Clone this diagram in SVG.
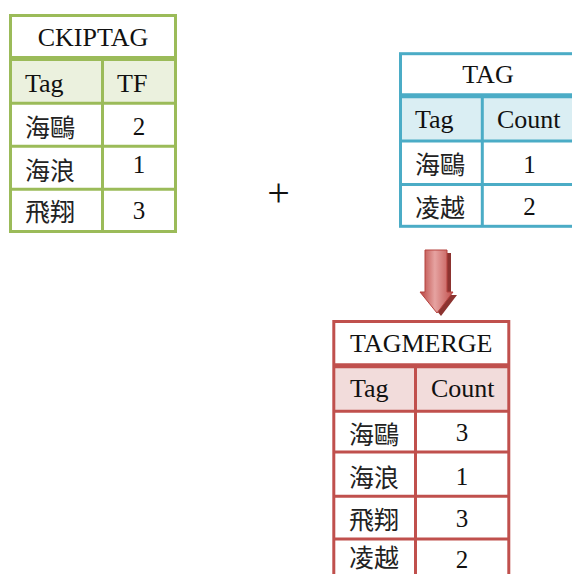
<svg xmlns="http://www.w3.org/2000/svg" width="572" height="574" viewBox="0 0 572 574">
<style>
  .t { font-family: "Liberation Serif", "Times New Roman", serif; font-size: 26px; fill: #111; }
  .d { font-family: "Liberation Serif", "Times New Roman", serif; font-size: 25px; fill: #111; text-anchor: middle; }
  .c { font-family: "Noto Sans CJK TC", "Noto Sans CJK SC", sans-serif; font-size: 25px; fill: #222; }
  .mid { text-anchor: middle; }
  .g { stroke: #9BBB59; }
  .b { stroke: #4BACC6; }
  .r { stroke: #C0504D; }
  .ln { stroke-width: 3; fill: none; }
  .sep { stroke-width: 5; fill: none; }
</style>
<defs>
  <linearGradient id="arrowGrad" x1="0" y1="0" x2="1" y2="0">
    <stop offset="0" stop-color="#B8433F"/>
    <stop offset="0.45" stop-color="#E6A3A1"/>
    <stop offset="1" stop-color="#C0504D"/>
  </linearGradient>
</defs>
<rect width="572" height="574" fill="#fff"/>

<g id="ckiptag">
  <rect x="10.5" y="58.5" width="165" height="45" fill="#EBF1DE"/>
  <rect x="10.5" y="15.5" width="165" height="216" class="g ln"/>
  <line x1="10.5" y1="58.5" x2="175.5" y2="58.5" class="g sep"/>
  <line x1="10.5" y1="103.3" x2="175.5" y2="103.3" class="g ln"/>
  <line x1="10.5" y1="146.3" x2="175.5" y2="146.3" class="g ln"/>
  <line x1="10.5" y1="189.3" x2="175.5" y2="189.3" class="g ln"/>
  <line x1="102.5" y1="58.5" x2="102.5" y2="231.5" class="g ln"/>
  <text x="93" y="46" class="t mid">CKIPTAG</text>
  <text x="25" y="91.5" class="t">Tag</text>
  <text x="117" y="91.5" class="t">TF</text>
  <text x="25" y="137" class="c">海鷗</text>
  <text x="139" y="135" class="d">2</text>
  <text x="25" y="180.3" class="c">海浪</text>
  <text x="139" y="173" class="d">1</text>
  <text x="25" y="220.5" class="c">飛翔</text>
  <text x="139" y="219" class="d">3</text>
</g>

<g id="plus">
  <text x="278.5" y="206" font-family="Liberation Serif, serif" font-size="40" text-anchor="middle" fill="#111">+</text>
</g>

<g id="tag">
  <rect x="400.5" y="95.8" width="176" height="45.2" fill="#DAEEF3"/>
  <rect x="400.5" y="53.7" width="176" height="172.6" class="b ln"/>
  <line x1="400.5" y1="95.8" x2="576.5" y2="95.8" class="b sep"/>
  <line x1="400.5" y1="141" x2="576.5" y2="141" class="b ln"/>
  <line x1="400.5" y1="184.5" x2="576.5" y2="184.5" class="b ln"/>
  <line x1="482.3" y1="95.8" x2="482.3" y2="226.3" class="b ln"/>
  <text x="488" y="83.3" class="t mid">TAG</text>
  <text x="415" y="128" class="t">Tag</text>
  <text x="497" y="128" class="t">Count</text>
  <text x="415" y="174" class="c">海鷗</text>
  <text x="529.4" y="172.5" class="d">1</text>
  <text x="415" y="216.5" class="c">凌越</text>
  <text x="529.4" y="214.5" class="d">2</text>
</g>

<g id="connectors">
  <path d="M429,253 H451 V295 H457 L441,316 L424,295 H429 Z" fill="#8C3330"/>
  <path d="M425,250 H447 V292 H453 L437,313 L420,292 H425 Z" fill="url(#arrowGrad)" stroke="#B5423F" stroke-width="1"/>
</g>

<g id="tagmerge">
  <rect x="333.8" y="365.8" width="175" height="45.4" fill="#F2DCDB"/>
  <rect x="333.8" y="321.5" width="175" height="280" class="r ln"/>
  <line x1="333.8" y1="365.8" x2="508.8" y2="365.8" class="r sep"/>
  <line x1="333.8" y1="411.2" x2="508.8" y2="411.2" class="r ln"/>
  <line x1="333.8" y1="452" x2="508.8" y2="452" class="r ln"/>
  <line x1="333.8" y1="496.3" x2="508.8" y2="496.3" class="r ln"/>
  <line x1="333.8" y1="539" x2="508.8" y2="539" class="r ln"/>
  <line x1="415.5" y1="365.8" x2="415.5" y2="600" class="r ln"/>
  <text x="421.3" y="351.7" class="t mid">TAGMERGE</text>
  <text x="350" y="397" class="t">Tag</text>
  <text x="431" y="397" class="t">Count</text>
  <text x="349" y="443.5" class="c">海鷗</text>
  <text x="462" y="441" class="d">3</text>
  <text x="349" y="487" class="c">海浪</text>
  <text x="462" y="484.5" class="d">1</text>
  <text x="349" y="529" class="c">飛翔</text>
  <text x="462" y="527" class="d">3</text>
  <text x="349" y="567" class="c">凌越</text>
  <text x="462" y="568" class="d">2</text>
</g>
</svg>
